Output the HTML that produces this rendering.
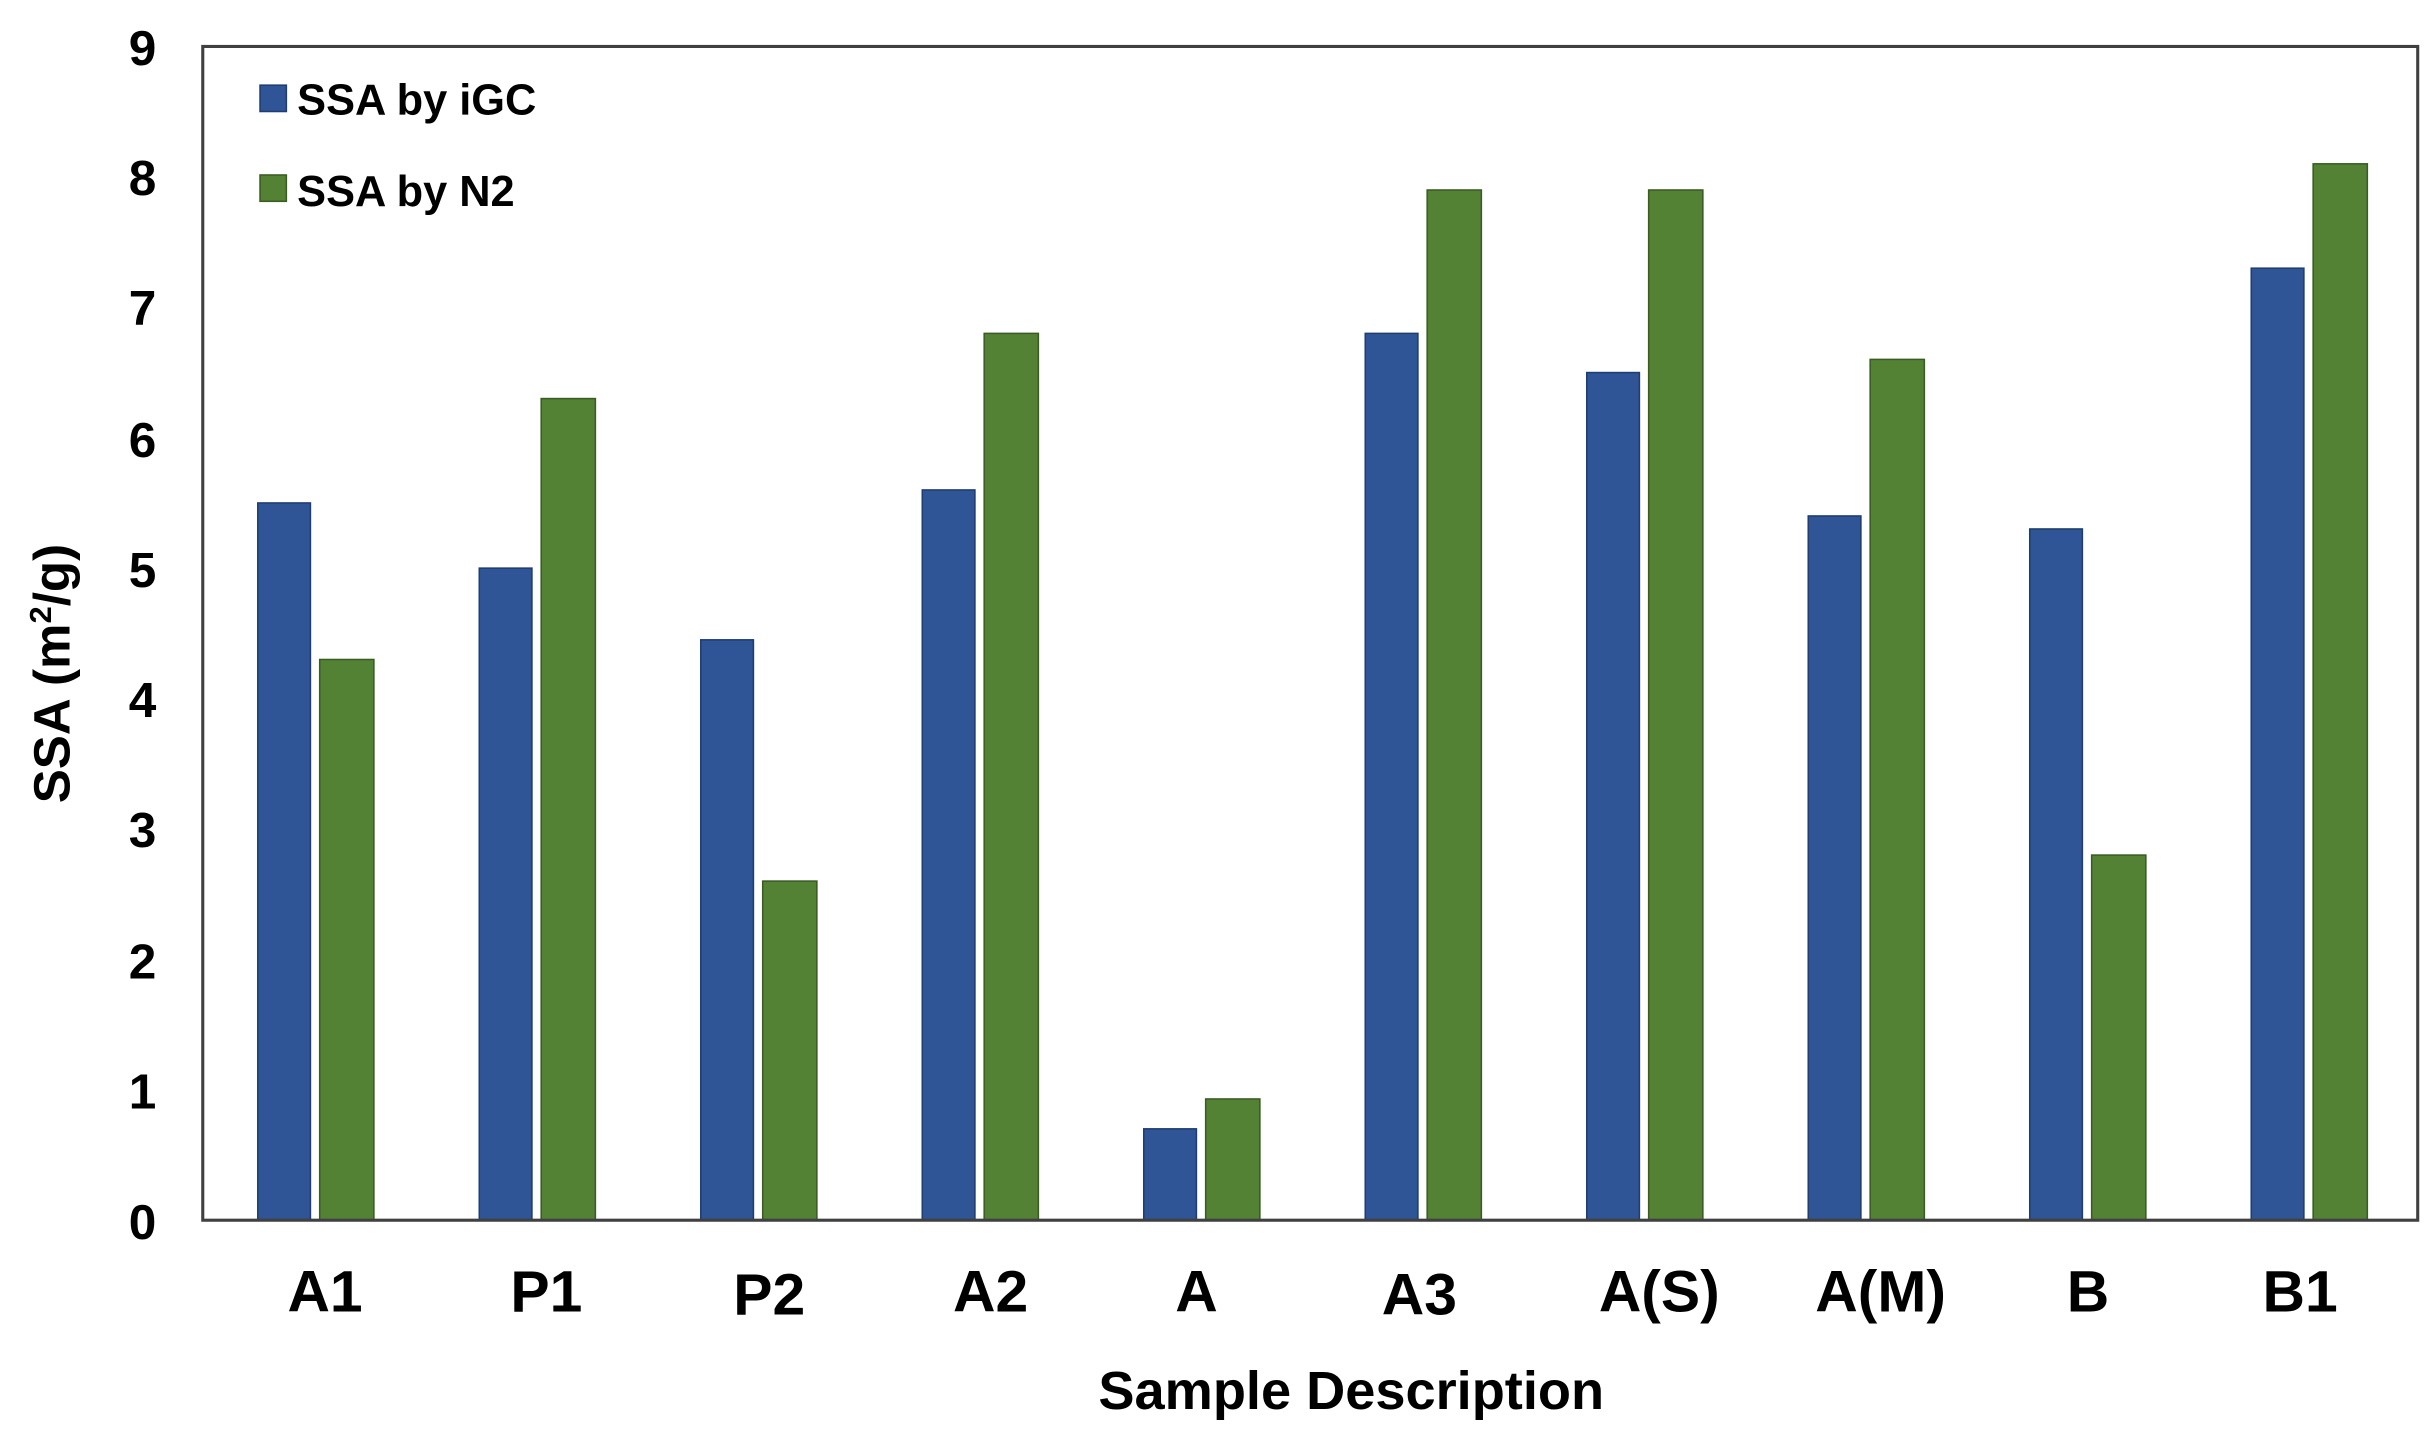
<!DOCTYPE html>
<html><head><meta charset="utf-8"><style>
html,body{margin:0;padding:0;background:#fff}
svg{display:block}
text{font-family:"Liberation Sans",Arial,sans-serif;font-weight:bold;fill:#000}
.b{fill:#2F5597;stroke:#1f3d70;stroke-width:1}
.g{fill:#548235;stroke:#3a5c24;stroke-width:1}
</style></head><body>
<svg width="2427" height="1437" viewBox="0 0 1568 928" preserveAspectRatio="none" xmlns="http://www.w3.org/2000/svg">
<rect width="1568" height="928" fill="#fff"/>
<rect class="b" x="166.55" y="324.8" width="34" height="463.2"/>
<rect class="g" x="206.55" y="425.9" width="35" height="362.1"/>
<rect class="b" x="309.65" y="366.9" width="34" height="421.1"/>
<rect class="g" x="349.65" y="257.4" width="35" height="530.6"/>
<rect class="b" x="452.75" y="413.2" width="34" height="374.8"/>
<rect class="g" x="492.75" y="569.0" width="35" height="219.0"/>
<rect class="b" x="595.85" y="316.4" width="34" height="471.6"/>
<rect class="g" x="635.85" y="215.3" width="35" height="572.7"/>
<rect class="b" x="738.95" y="729.0" width="34" height="59.0"/>
<rect class="g" x="778.95" y="709.7" width="35" height="78.3"/>
<rect class="b" x="882.05" y="215.3" width="34" height="572.7"/>
<rect class="g" x="922.05" y="122.7" width="35" height="665.3"/>
<rect class="b" x="1025.15" y="240.6" width="34" height="547.4"/>
<rect class="g" x="1065.15" y="122.7" width="35" height="665.3"/>
<rect class="b" x="1168.25" y="333.2" width="34" height="454.8"/>
<rect class="g" x="1208.25" y="232.1" width="35" height="555.9"/>
<rect class="b" x="1311.35" y="341.6" width="34" height="446.4"/>
<rect class="g" x="1351.35" y="552.2" width="35" height="235.8"/>
<rect class="b" x="1454.45" y="173.2" width="34" height="614.8"/>
<rect class="g" x="1494.45" y="105.8" width="35" height="682.2"/>
<rect x="131" y="30" width="1431" height="758" fill="none" stroke="#404040" stroke-width="2"/>
<g font-size="32" text-anchor="end">
<text x="101" y="800">0</text><text x="101" y="716">1</text><text x="101" y="632">2</text>
<text x="101" y="547">3</text><text x="101" y="463">4</text><text x="101" y="379">5</text>
<text x="101" y="295">6</text><text x="101" y="210">7</text><text x="101" y="126">8</text>
<text x="101" y="42">9</text>
</g>
<g font-size="38" text-anchor="middle">
<text x="210" y="847">A1</text>
<text x="353" y="847">P1</text>
<text x="497" y="849">P2</text>
<text x="640" y="847">A2</text>
<text x="773" y="847">A</text>
<text x="917" y="849">A3</text>
<text x="1072" y="847">A(S)</text>
<text x="1215" y="847">A(M)</text>
<text x="1349" y="847">B</text>
<text x="1486" y="847">B1</text>
</g>
<text x="873" y="910" font-size="35" text-anchor="middle">Sample Description</text>
<text transform="translate(45,435) rotate(-90)" font-size="33" text-anchor="middle">SSA (m<tspan dy="-12" font-size="20">2</tspan><tspan dy="12">/g)</tspan></text>
<rect x="168" y="55" width="17" height="17" class="b"/>
<text x="192" y="74" font-size="28">SSA by iGC</text>
<rect x="168" y="113" width="17" height="17" class="g"/>
<text x="192" y="133" font-size="28">SSA by N2</text>
</svg>
</body></html>
